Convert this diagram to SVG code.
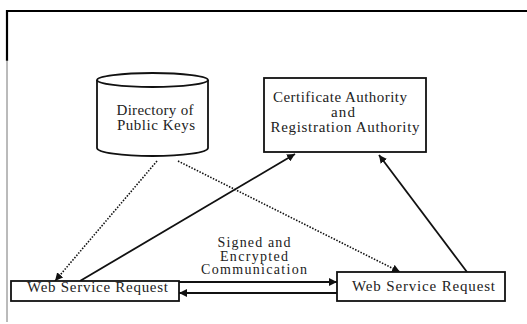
<svg xmlns="http://www.w3.org/2000/svg" width="527" height="324" viewBox="0 0 527 324">
  <style>
    .bg { fill: #ffffff; }
    .box { fill: #ffffff; stroke: #111; stroke-width: 1.8; }
    .lbl { font-family: "Liberation Serif", "Times New Roman", "DejaVu Serif", serif; font-size: 15px; fill: #222; text-anchor: middle; }
    .small { font-size: 14px; }
    .solid { stroke: #111; stroke-width: 1.8; fill: none; }
    .dot { stroke: #111; stroke-width: 1.6; fill: none; stroke-dasharray: 1.5 1.5; }
  </style>
  <defs>
    <marker id="arrow" viewBox="0 0 10 10" refX="10" refY="5" markerWidth="8" markerHeight="8" markerUnits="userSpaceOnUse" orient="auto">
      <path d="M0,0 L10,5 L0,10 Z" fill="#111"/>
    </marker>
  </defs>

  <rect class="bg" x="0" y="0" width="527" height="324"/>

  <!-- page frame -->
  <g id="frame">
    <line x1="6" y1="11" x2="527" y2="11" stroke="#000" stroke-width="2.2"/>
    <line x1="7" y1="10" x2="7" y2="61" stroke="#000" stroke-width="2.2"/>
    <line x1="7" y1="60" x2="7" y2="322" stroke="#777" stroke-width="1"/>
  </g>

  <!-- connectors -->
  <g id="connectors">
    <line class="dot" x1="157" y1="161" x2="55" y2="281" marker-end="url(#arrow)"/>
    <line class="dot" x1="178" y1="161" x2="400" y2="272" marker-end="url(#arrow)"/>
    <line class="solid" x1="80" y1="281" x2="295" y2="154" marker-end="url(#arrow)"/>
    <line class="solid" x1="467" y1="272" x2="379" y2="155" marker-end="url(#arrow)"/>
    <line class="solid" x1="179" y1="282" x2="337" y2="282" marker-end="url(#arrow)"/>
    <line class="solid" x1="337" y1="293" x2="179" y2="293" marker-end="url(#arrow)"/>
    <text class="lbl small" x="254" y="247" textLength="73" lengthAdjust="spacing">Signed and</text>
    <text class="lbl small" x="254" y="260.5" textLength="68" lengthAdjust="spacing">Encrypted</text>
    <text class="lbl small" x="254" y="274" textLength="106" lengthAdjust="spacing">Communication</text>
  </g>

  <!-- directory (cylinder) -->
  <g id="directory">
    <path class="box" d="M97,80 L97,148 A55.5,8 0 0 0 208,148 L208,80"/>
    <ellipse class="box" cx="152.5" cy="80" rx="55.5" ry="7"/>
    <text class="lbl" x="155" y="115" textLength="77" lengthAdjust="spacing">Directory of</text>
    <text class="lbl" x="156" y="130" textLength="78" lengthAdjust="spacing">Public Keys</text>
  </g>

  <!-- certificate / registration authority -->
  <g id="authority">
    <rect class="box" x="264" y="78" width="162" height="74"/>
    <text class="lbl" x="340" y="102" textLength="134" lengthAdjust="spacing">Certificate Authority</text>
    <text class="lbl" x="343" y="117" textLength="24" lengthAdjust="spacing">and</text>
    <text class="lbl" x="345" y="132" textLength="149" lengthAdjust="spacing">Registration Authority</text>
  </g>

  <!-- requester -->
  <g id="request-left">
    <rect class="box" x="11" y="281" width="168" height="20"/>
    <text class="lbl" x="97.5" y="292" textLength="141" lengthAdjust="spacing">Web Service Request</text>
  </g>

  <!-- provider -->
  <g id="request-right">
    <rect class="box" x="337" y="272" width="168" height="29"/>
    <text class="lbl" x="423.5" y="291" textLength="143" lengthAdjust="spacing">Web Service Request</text>
  </g>
</svg>
